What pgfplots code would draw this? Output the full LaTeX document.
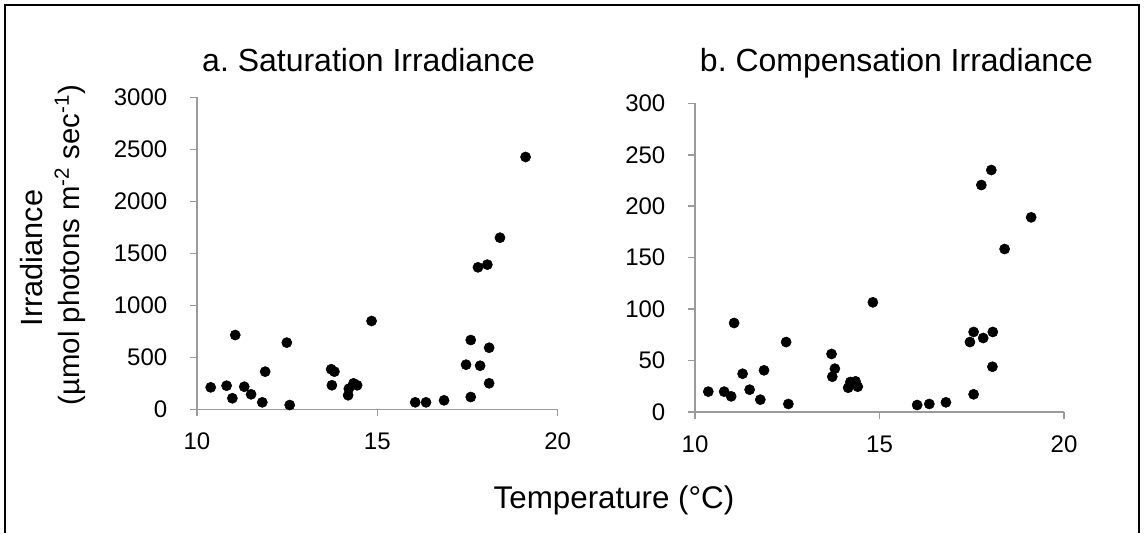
\documentclass[border=0pt]{standalone}
\usepackage{fontspec}
\setmainfont{Liberation Sans}
\usepackage{pgfplots}
\pgfplotsset{compat=1.18}
\frenchspacing
\definecolor{axgray}{RGB}{155,155,155}
\pgfplotsset{
  myax/.style={
    scale only axis, anchor=south west,
    xmin=10, xmax=20, xtick={10,15,20},
    axis lines*=left,
    axis line style={axgray, line width=1.1pt, -},
    tick style={axgray, line width=1.1pt},
    tick align=outside, major tick length=5.25pt,
    ticklabel style={font=\fontsize{18}{18}\selectfont, text=black},
    yticklabel style={xshift=-13.5pt},
    xticklabel style={yshift=-9pt},
    /pgf/number format/assume math mode=true,
    /pgf/number format/1000 sep={},
    clip=false,
  },
  dots/.style={only marks, mark=*, mark size=3.8pt, black, mark options={fill=black, draw=black}},
}
\begin{document}
\begin{tikzpicture}
\useasboundingbox (0,0) rectangle (858pt,399.75pt);
\draw[line width=1.6pt] (3.75pt,0pt) -- (3.75pt,396pt) -- (854.25pt,396pt) -- (854.25pt,0pt);

\begin{axis}[myax, at={(147.75pt,92.78pt)}, width=270.5pt, height=234pt,
  ymin=0, ymax=3000, ytick={0,500,...,3000}]
\addplot[dots] table {
x y
10.38 211
10.82 227
10.98 106
11.06 714
11.31 217
11.50 144
11.81 67
11.89 362
12.49 641
12.57 41
13.72 385
13.81 362
13.74 231
14.19 135
14.21 198
14.34 250
14.44 231
14.84 849
16.05 67
16.35 67
16.85 86
17.59 666
17.46 429
17.59 118
17.85 419
18.10 592
18.10 250
17.79 1365
18.05 1391
18.40 1650
19.11 2426
};
\end{axis}

\begin{axis}[myax, at={(521.25pt,90.75pt)}, width=276.75pt, height=231.5pt,
  ymin=0, ymax=300, ytick={0,50,...,300}]
\addplot[dots] table {
x y
10.36 19.8
10.79 19.8
10.98 15.2
11.06 86.5
11.29 37.2
11.48 21.7
11.77 12
11.87 40.5
12.47 68
12.53 7.8
13.70 56.4
13.79 42.1
13.72 34.3
14.15 23.6
14.21 29.2
14.35 29.8
14.41 24.6
14.82 106.6
16.02 6.8
16.35 7.8
16.80 9.4
17.45 68
17.55 77.8
17.55 17.2
17.81 71.9
18.07 77.8
18.06 44
18.39 158.4
17.76 220.6
18.03 235.2
19.11 189.2
};
\end{axis}

\node[anchor=base, font=\fontsize{24}{24}\selectfont] at (276.4pt,346.1pt) {a. Saturation Irradiance};
\node[anchor=base, font=\fontsize{24}{24}\selectfont] at (672.4pt,346.1pt) {b. Compensation Irradiance};
\node[anchor=base, font=\fontsize{23.5}{23.5}\selectfont] at (460.5pt,18.75pt) {Temperature (°C)};
\node[rotate=90, anchor=base, font=\fontsize{23}{23}\selectfont] at (31.5pt,206.25pt) {Irradiance};
\node[rotate=90, anchor=base, font=\fontsize{22}{22}\selectfont] at (59.25pt,216pt) {(µmol photons m\textsuperscript{-2} sec\textsuperscript{-1})};
\end{tikzpicture}
\end{document}
